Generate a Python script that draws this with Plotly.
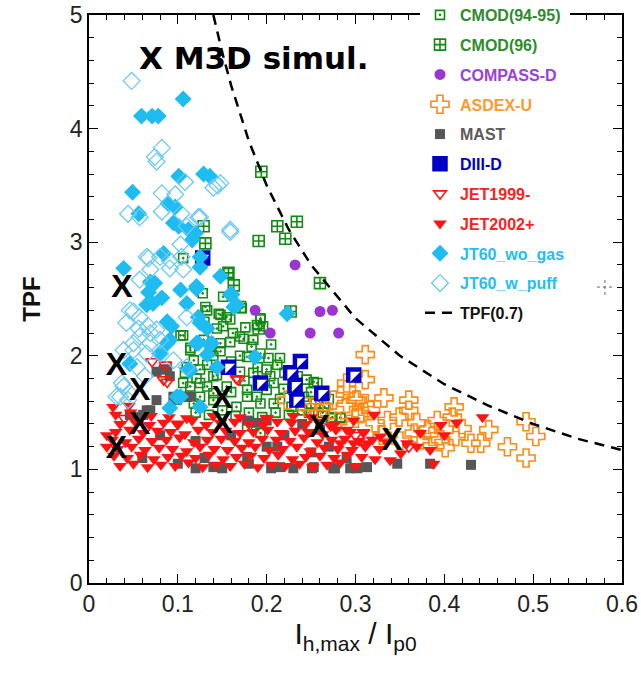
import plotly.graph_objects as go

# ---------------- data ----------------
cmod9495_x = [0.106, 0.114, 0.129, 0.144, 0.155, 0.170, 0.185, 0.159, 0.148, 0.118, 0.133, 0.121, 0.133, 0.144,
              0.155, 0.170, 0.178, 0.189, 0.200, 0.208, 0.110, 0.125, 0.140, 0.114, 0.108, 0.178, 0.193, 0.196,
              0.189, 0.151, 0.106, 0.157, 0.131, 0.146, 0.159, 0.151, 0.193, 0.114, 0.136, 0.148, 0.174, 0.183,
              0.202, 0.215, 0.204, 0.219, 0.245, 0.257, 0.242, 0.255, 0.193, 0.178, 0.166, 0.208, 0.125, 0.110,
              0.106, 0.118, 0.140, 0.172, 0.193, 0.253, 0.260, 0.234, 0.283, 0.272, 0.193, 0.178, 0.103, 0.133,
              0.148, 0.120, 0.135, 0.150, 0.165, 0.180, 0.195, 0.210, 0.225, 0.240, 0.140, 0.160, 0.175, 0.190,
              0.200, 0.215, 0.230, 0.250, 0.265, 0.270, 0.125, 0.130, 0.140, 0.160, 0.170, 0.185, 0.205, 0.220,
              0.235, 0.274, 0.283, 0.263, 0.128, 0.162, 0.176, 0.212, 0.228, 0.248]
cmod9495_y = [2.18, 2.07, 2.14, 2.24, 2.34, 2.17, 2.14, 2.12, 2.04, 1.96, 1.92, 1.80, 1.73, 1.83,
              1.73, 1.86, 1.70, 1.64, 1.88, 1.76, 1.64, 1.64, 1.61, 1.73, 1.85, 1.99, 2.02, 2.26,
              2.27, 2.52, 2.86, 2.73, 2.43, 2.37, 2.32, 2.26, 2.33, 2.05, 2.05, 2.11, 2.15, 2.08,
              1.98, 1.98, 1.82, 1.71, 1.79, 1.76, 1.64, 1.58, 1.58, 1.64, 1.55, 1.58, 1.76, 1.90,
              1.76, 1.58, 1.67, 2.42, 2.32, 1.77, 1.64, 1.61, 1.45, 1.45, 1.32, 1.38, 2.18, 2.40,
              2.36, 1.50, 1.48, 1.52, 1.47, 1.50, 1.46, 1.50, 1.48, 1.52, 1.82, 1.95, 1.78, 1.90,
              1.70, 1.62, 1.70, 1.68, 1.55, 1.62, 1.88, 2.30, 2.00, 1.68, 2.00, 1.85, 2.10, 1.85,
              1.82, 1.46, 1.46, 1.50, 2.55, 2.20, 2.25, 1.92, 1.55, 1.50]

cmod96_x = [0.194, 0.212, 0.234, 0.221, 0.191, 0.260, 0.129, 0.131, 0.163, 0.170, 0.191, 0.227, 0.157]
cmod96_y = [3.62, 3.14, 3.18, 3.03, 3.01, 2.64, 3.14, 2.99, 2.62, 2.43, 2.24, 2.39, 2.73]

compass_x = [0.232, 0.187, 0.260, 0.274, 0.204, 0.249, 0.281]
compass_y = [2.80, 2.40, 2.39, 2.40, 2.20, 2.20, 2.20]

asdex_x = [0.311, 0.311, 0.290, 0.275, 0.300, 0.311, 0.332, 0.360, 0.360, 0.349, 0.411, 0.409, 0.392, 0.381,
           0.420, 0.413, 0.401, 0.441, 0.450, 0.471, 0.492, 0.503, 0.492, 0.290, 0.264, 0.253, 0.322, 0.336,
           0.369, 0.373, 0.386, 0.430, 0.306, 0.317, 0.366, 0.396, 0.223, 0.302, 0.290, 0.245, 0.260, 0.330,
           0.350, 0.300, 0.280]
asdex_y = [2.01, 1.79, 1.70, 1.61, 1.61, 1.58, 1.63, 1.61, 1.52, 1.46, 1.55, 1.46, 1.43, 1.35,
           1.36, 1.29, 1.19, 1.23, 1.35, 1.20, 1.42, 1.29, 1.10, 1.58, 1.55, 1.55, 1.41, 1.43,
           1.41, 1.26, 1.29, 1.23, 1.49, 1.52, 1.32, 1.26, 1.61, 1.61, 1.76, 1.55, 1.49, 1.30,
           1.25, 1.45, 1.42]

mast_x = [0.313, 0.347, 0.384, 0.430, 0.277, 0.294, 0.251, 0.230, 0.076, 0.088, 0.054, 0.065, 0.076, 0.103,
          0.114, 0.148, 0.178, 0.189, 0.200, 0.212, 0.178, 0.253, 0.275, 0.302, 0.091, 0.046, 0.061, 0.095,
          0.084, 0.099, 0.069, 0.080, 0.120, 0.160, 0.200, 0.130, 0.220, 0.250, 0.180, 0.100, 0.060, 0.260,
          0.240, 0.290, 0.270, 0.120, 0.150, 0.205, 0.215, 0.140]
mast_y = [1.02, 1.05, 1.05, 1.04, 1.01, 1.01, 1.01, 1.01, 1.86, 1.88, 1.46, 1.52, 1.61, 1.64,
          1.64, 1.90, 1.43, 1.41, 1.43, 1.20, 1.11, 1.02, 1.01, 1.01, 1.82, 1.48, 1.48, 1.64,
          1.88, 1.61, 1.52, 1.30, 1.25, 1.30, 1.20, 1.10, 1.30, 1.15, 1.05, 1.05, 1.10, 1.35,
          1.40, 1.10, 1.20, 1.01, 1.01, 1.01, 1.02, 1.02]

diiid_x = [0.128, 0.157, 0.238, 0.227, 0.193, 0.232, 0.298, 0.262, 0.234]
diiid_y = [2.86, 1.90, 1.95, 1.85, 1.76, 1.74, 1.83, 1.67, 1.61]

jet1999_x = [0.071, 0.086, 0.088, 0.084, 0.166, 0.168, 0.040, 0.100, 0.200, 0.300, 0.360]
jet1999_y = [1.95, 1.92, 1.77, 1.79, 1.80, 1.79, 1.45, 1.40, 1.45, 1.30, 1.20]

jet2002_x = [
    0.035, 0.050, 0.066, 0.081, 0.097, 0.112, 0.128, 0.143, 0.159, 0.175, 0.190, 0.206, 0.221, 0.237, 0.252, 0.268, 0.283, 0.300,
    0.028, 0.043, 0.058, 0.073, 0.089, 0.104, 0.120, 0.135, 0.151, 0.166, 0.182, 0.197, 0.213, 0.229, 0.244, 0.260, 0.276, 0.291, 0.307, 0.322,
    0.032, 0.048, 0.063, 0.079, 0.094, 0.110, 0.125, 0.141, 0.156, 0.172, 0.187, 0.203, 0.218, 0.234, 0.249, 0.265, 0.280, 0.296, 0.311, 0.327,
    0.026, 0.041, 0.056, 0.071, 0.087, 0.102, 0.118, 0.133, 0.149, 0.164, 0.180, 0.195, 0.211, 0.226, 0.242, 0.257, 0.273, 0.288, 0.304, 0.319, 0.335,
    0.030, 0.046, 0.061, 0.077, 0.092, 0.108, 0.123, 0.139, 0.154, 0.170, 0.185, 0.201, 0.216, 0.232, 0.247, 0.263, 0.278, 0.294, 0.309,
    0.035, 0.052, 0.068, 0.084, 0.100, 0.116, 0.132, 0.148, 0.164, 0.180, 0.196, 0.212, 0.228, 0.244, 0.260, 0.276,
    0.030, 0.047, 0.070, 0.090, 0.110, 0.140, 0.170, 0.200, 0.230, 0.250,
    0.027, 0.045, 0.020, 0.020,
    0.321, 0.298, 0.309, 0.313, 0.339, 0.358, 0.369, 0.388, 0.396, 0.414, 0.443, 0.384, 0.400, 0.290, 0.283,
    0.272, 0.298, 0.328, 0.351, 0.373]
jet2002_y = [
    1.03, 1.05, 1.02, 1.04, 1.03, 1.06, 1.02, 1.04, 1.03, 1.05, 1.02, 1.04, 1.03, 1.05, 1.02, 1.04, 1.06, 1.03,
    1.12, 1.10, 1.13, 1.09, 1.11, 1.12, 1.10, 1.13, 1.09, 1.11, 1.12, 1.10, 1.13, 1.09, 1.11, 1.12, 1.10, 1.13, 1.11, 1.09,
    1.18, 1.20, 1.17, 1.19, 1.18, 1.16, 1.20, 1.18, 1.17, 1.19, 1.20, 1.17, 1.18, 1.20, 1.16, 1.19, 1.18, 1.17, 1.20, 1.18,
    1.26, 1.24, 1.27, 1.25, 1.26, 1.28, 1.24, 1.26, 1.27, 1.25, 1.24, 1.27, 1.26, 1.25, 1.28, 1.24, 1.26, 1.27, 1.25, 1.26, 1.24,
    1.33, 1.35, 1.32, 1.34, 1.33, 1.31, 1.35, 1.33, 1.34, 1.32, 1.33, 1.35, 1.32, 1.34, 1.33, 1.31, 1.35, 1.33, 1.32,
    1.40, 1.42, 1.39, 1.41, 1.40, 1.43, 1.39, 1.41, 1.42, 1.40, 1.39, 1.42, 1.41, 1.40, 1.42, 1.39,
    1.48, 1.50, 1.47, 1.46, 1.45, 1.47, 1.46, 1.45, 1.47, 1.46,
    1.55, 1.56, 1.20, 1.30,
    1.48, 1.43, 1.33, 1.23, 1.08, 1.23, 1.20, 1.05, 1.39, 1.41, 1.46, 1.17, 1.30, 1.35, 1.23,
    1.38, 1.23, 1.29, 1.14, 1.32]

jt60wo_x = [0.106, 0.059, 0.071, 0.078, 0.101, 0.129, 0.136, 0.049, 0.089, 0.097, 0.056, 0.095, 0.101, 0.112,
            0.120, 0.116, 0.084, 0.039, 0.069, 0.074, 0.067, 0.103, 0.121, 0.082, 0.159, 0.125, 0.163, 0.088,
            0.093, 0.125, 0.133, 0.091, 0.121, 0.136, 0.046, 0.114, 0.099, 0.091, 0.125, 0.187, 0.133, 0.148,
            0.121, 0.161, 0.223, 0.110, 0.125, 0.138, 0.123, 0.112, 0.065, 0.072, 0.123, 0.144, 0.166, 0.088,
            0.080, 0.103]
jt60wo_y = [4.26, 4.11, 4.11, 4.11, 3.58, 3.60, 3.58, 3.44, 3.34, 3.31, 3.25, 3.17, 3.14, 3.11,
            3.08, 3.02, 2.90, 2.77, 2.65, 2.64, 2.56, 2.58, 2.59, 2.51, 2.54, 2.87, 2.43, 2.30,
            2.26, 2.29, 2.24, 2.14, 2.11, 2.10, 1.93, 1.87, 1.64, 1.54, 1.55, 1.99, 2.01, 2.70,
            2.61, 2.54, 2.37, 2.46, 2.78, 2.11, 2.11, 1.88, 2.45, 2.46, 2.34, 1.90, 2.45, 2.11,
            2.02, 1.64]

jt60w_x = [0.048, 0.082, 0.074, 0.076, 0.108, 0.140, 0.145, 0.082, 0.097, 0.044, 0.057, 0.082, 0.104, 0.123,
           0.159, 0.110, 0.103, 0.067, 0.065, 0.080, 0.091, 0.069, 0.091, 0.057, 0.050, 0.057, 0.067, 0.076,
           0.057, 0.069, 0.080, 0.039, 0.050, 0.080, 0.054, 0.063, 0.035, 0.044, 0.037, 0.106, 0.095, 0.110,
           0.104, 0.159, 0.148, 0.125, 0.110, 0.046, 0.042, 0.056, 0.069, 0.050, 0.065, 0.031, 0.046, 0.039]
jt60w_y = [4.42, 3.83, 3.75, 3.71, 3.53, 3.48, 3.50, 3.43, 3.42, 3.25, 3.22, 3.27, 3.25, 3.22,
           3.09, 3.14, 2.98, 2.86, 2.87, 2.87, 2.84, 2.76, 2.77, 2.67, 2.39, 2.34, 2.26, 2.23,
           2.17, 2.11, 2.14, 2.05, 2.05, 2.02, 1.90, 1.82, 1.64, 1.61, 1.76, 2.76, 1.96, 1.90,
           2.87, 3.11, 3.52, 3.22, 2.34, 2.40, 2.29, 2.24, 2.20, 2.11, 2.02, 1.64, 1.67, 1.73]

# M3D simulation points (drawn as "X")
m3d_x = [0.037, 0.031, 0.057, 0.150, 0.057, 0.031, 0.150, 0.259, 0.341]
m3d_y = [2.59, 1.90, 1.68, 1.61, 1.38, 1.17, 1.39, 1.36, 1.24]

# TPF(0.7) curve, points
tpf_x = [0.140, 0.150, 0.160, 0.180, 0.200, 0.225, 0.250, 0.300, 0.350, 0.400, 0.450, 0.500, 0.550, 0.600]
tpf_y = [5.00, 4.67, 4.38, 3.89, 3.50, 3.11, 2.80, 2.33, 2.00, 1.75, 1.56, 1.40, 1.27, 1.17]

# ---------------- styles ----------------
GREEN = "#138a13"
PURPLE = "#9b35d2"
ORANGE = "#ff8a14"
GRAY = "#575757"
BLUE = "#0000c8"
RED = "#ff1414"
CYAN = "#1ebcf0"
LCYAN = "#6ccaf4"


def lname(txt, color):
    return "<b><span style='color:%s'>%s</span></b>" % (color, txt)


fig = go.Figure()

fig.add_trace(go.Scatter(x=cmod9495_x, y=cmod9495_y, mode="markers", name=lname("CMOD(94-95)", "#2e8b2e"),
                         legendgroup="a",
                         marker=dict(symbol="square-open-dot", size=9, color=GREEN, line=dict(width=1.6, color=GREEN))))
fig.add_trace(go.Scatter(x=cmod96_x, y=cmod96_y, mode="markers", name=lname("CMOD(96)", "#2e8b2e"),
                         legendgroup="b",
                         marker=dict(symbol="square-cross-open", size=11, color=GREEN, line=dict(width=1.6, color=GREEN))))
fig.add_trace(go.Scatter(x=compass_x, y=compass_y, mode="markers", name=lname("COMPASS-D", "#9b40d8"),
                         legendgroup="c",
                         marker=dict(symbol="circle", size=11, color=PURPLE, line=dict(width=0))))
fig.add_trace(go.Scatter(x=asdex_x, y=asdex_y, mode="markers", name=lname("ASDEX-U", "#ff9a30"),
                         legendgroup="d",
                         marker=dict(symbol="cross-open", size=15, color=ORANGE, line=dict(width=1.6, color=ORANGE))))
fig.add_trace(go.Scatter(x=mast_x, y=mast_y, mode="markers", name=lname("MAST", "#5a5a5a"),
                         legendgroup="e",
                         marker=dict(symbol="square", size=10, color=GRAY, line=dict(width=0))))
fig.add_trace(go.Scatter(x=diiid_x, y=diiid_y, mode="markers", name=lname("DIII-D", "#0000c0"),
                         legendgroup="f",
                         marker=dict(symbol="square", size=14, color=BLUE, line=dict(width=1.5, color=BLUE))))
fig.add_trace(go.Scatter(x=diiid_x, y=diiid_y, mode="markers", showlegend=False, hoverinfo="skip",
                         legendgroup="f",
                         marker=dict(symbol="triangle-nw", size=11, color="white", line=dict(width=0))))
fig.add_trace(go.Scatter(x=jet1999_x, y=jet1999_y, mode="markers", name=lname("JET1999-", "#ff2020"),
                         legendgroup="g",
                         marker=dict(symbol="triangle-down-open", size=11, color=RED, line=dict(width=1.6, color=RED))))
fig.add_trace(go.Scatter(x=jet2002_x, y=jet2002_y, mode="markers", name=lname("JET2002+", "#ff2020"),
                         legendgroup="h",
                         marker=dict(symbol="triangle-down", size=12, color=RED, line=dict(width=0))))
fig.add_trace(go.Scatter(x=jt60wo_x, y=jt60wo_y, mode="markers", name=lname("JT60_wo_gas", "#26bdf0"),
                         legendgroup="i",
                         marker=dict(symbol="diamond", size=13, color=CYAN, line=dict(width=0))))
fig.add_trace(go.Scatter(x=jt60w_x, y=jt60w_y, mode="markers", name=lname("JT60_w_puff", "#26bdf0"),
                         legendgroup="j",
                         marker=dict(symbol="diamond-open", size=13, color=LCYAN, line=dict(width=1.3, color=LCYAN))))
fig.add_trace(go.Scatter(x=tpf_x, y=tpf_y, mode="lines", name="<b><span style='color:#111'>TPF(0.7)</span></b>",
                         legendgroup="k",
                         line=dict(color="black", width=2.5, dash="10px,7px")))
fig.add_trace(go.Scatter(x=m3d_x, y=m3d_y, mode="text", text=["X"] * len(m3d_x), showlegend=False,
                         hoverinfo="skip",
                         textfont=dict(family="Arial", size=32, color="black", weight="bold")))

fig.add_annotation(x=0.31, y=0.925, xref="paper", yref="paper", xanchor="center", yanchor="middle",
                   text="<b>X M3D simul.</b>",
                   showarrow=False, font=dict(family="DejaVu Sans", size=31, color="black"))

# small crosshair (screen cursor) visible in the picture
fig.add_shape(type="line", xref="paper", yref="paper", x0=0.953, x1=0.983, y0=0.521, y1=0.521,
              line=dict(color="#666", width=1, dash="dot"))
fig.add_shape(type="line", xref="paper", yref="paper", x0=0.968, x1=0.968, y0=0.507, y1=0.535,
              line=dict(color="#666", width=1, dash="dot"))

tickfont = dict(family="Arial", size=23, color="#222")
fig.update_xaxes(range=[0, 0.6], dtick=0.1, tick0=0, showline=True, linecolor="black", linewidth=1.5,
                 mirror="allticks", ticks="inside", ticklen=9, tickwidth=1.3, tickcolor="black",
                 minor=dict(dtick=0.02, ticks="inside", ticklen=5, tickwidth=1.2, tickcolor="black"),
                 showgrid=False, zeroline=False, tickfont=tickfont,
                 title=dict(text="I<sub>h,max</sub> / I<sub>p0</sub>", font=dict(family="Arial", size=30, color="#111"),
                            standoff=2))
fig.update_yaxes(range=[0, 5], dtick=1, tick0=0, showline=True, linecolor="black", linewidth=1.5,
                 mirror="allticks", ticks="inside", ticklen=9, tickwidth=1.3, tickcolor="black",
                 minor=dict(dtick=0.2, ticks="inside", ticklen=5, tickwidth=1.2, tickcolor="black"),
                 showgrid=False, zeroline=False, tickfont=tickfont,
                 title=dict(text="<b>TPF</b>", font=dict(family="Arial", size=24, color="#111"), standoff=22))

fig.update_layout(width=641, height=673, margin=dict(l=89, r=19, t=15, b=90, autoexpand=False),
                  paper_bgcolor="white", plot_bgcolor="white", font=dict(family="Arial"),
                  legend=dict(x=0.621, y=1.03, xanchor="left", yanchor="top", bgcolor="white",
                              font=dict(family="Arial", size=16, color="#222"), tracegroupgap=6,
                              itemwidth=30),
                  showlegend=True)

fig.write_html("out.html")
